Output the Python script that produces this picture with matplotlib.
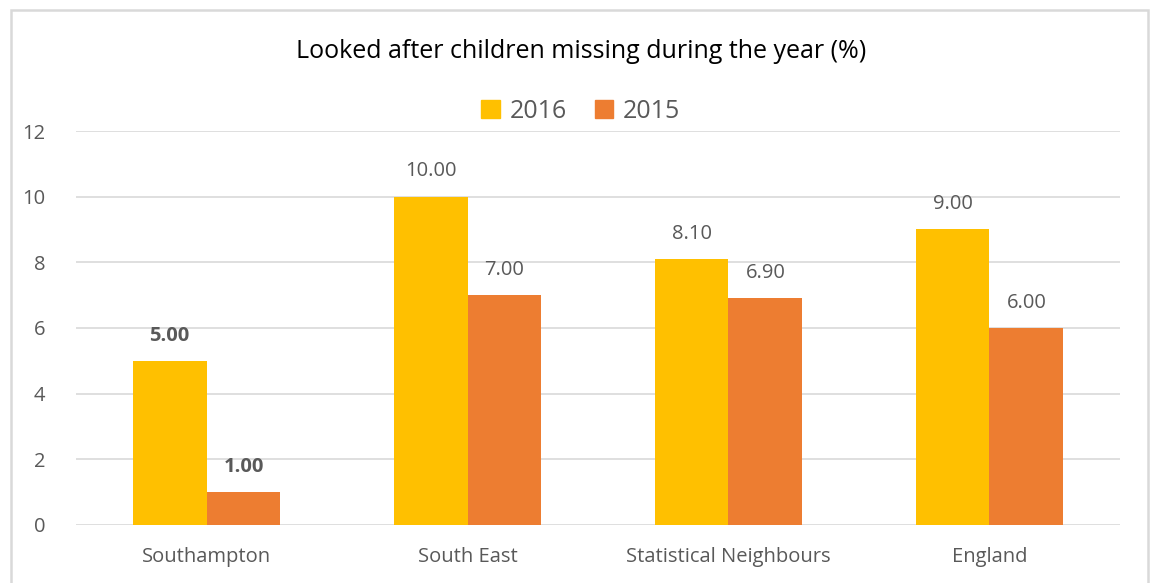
import numpy as np
import matplotlib
matplotlib.use("Agg")
import matplotlib.pyplot as plt
from matplotlib.patches import Rectangle, Patch

categories = ["Southampton", "South East", "Statistical Neighbours", "England"]
values_2016 = [5.00, 10.00, 8.10, 9.00]
values_2015 = [1.00, 7.00, 6.90, 6.00]
series_names = ["2016", "2015"]
y_ticks = [0, 2, 4, 6, 8, 10, 12]

plt.rcParams["font.family"] = ["Open Sans", "DejaVu Sans"]

C16 = "#FFC000"
C15 = "#ED7D31"
GREY = "#595959"
GRID = "#D9D9D9"

fig = plt.figure(figsize=(11.5, 5.83), dpi=100)
ax = fig.add_axes([0.0661, 0.0995, 0.9078, 0.6758])

x = np.arange(len(categories))
w = 0.283
b16 = ax.bar(x - w / 2, values_2016, w, color=C16, zorder=3)
b15 = ax.bar(x + w / 2, values_2015, w, color=C15, zorder=3)

# data labels (Southampton in bold)
for bars, vals in ((b16, values_2016), (b15, values_2015)):
    for i, (bar, v) in enumerate(zip(bars, vals)):
        ax.annotate(f"{v:.2f}", xy=(bar.get_x() + bar.get_width() / 2, v),
                    xytext=(0, 11), textcoords="offset points",
                    ha="center", va="bottom", fontsize=14.5, color=GREY,
                    fontweight="bold" if i == 0 else "normal")

ax.set_xlim(-0.5, len(categories) - 0.5)
ax.set_ylim(0, 12)
ax.set_yticks(y_ticks)
ax.set_xticks(x)
ax.set_xticklabels(categories)
ax.tick_params(axis="both", length=0, labelsize=14.5, labelcolor=GREY)
ax.tick_params(axis="y", pad=22)
ax.tick_params(axis="x", pad=16)
ax.grid(axis="y", color=GRID, lw=1.2, zorder=0)
for s in ax.spines.values():
    s.set_visible(False)

fig.text(0.505, 1 - 51 / 583, "Looked after children missing during the year (%)",
         ha="center", va="center", fontsize=18, color="#000000")

handles = [Patch(color=C16), Patch(color=C15)]
fig.legend(handles, series_names, loc="center", bbox_to_anchor=(0.505, 1 - 111 / 583),
           ncol=2, frameon=False, fontsize=18, labelcolor=GREY,
           handlelength=0.75, handleheight=0.75, handletextpad=0.4, columnspacing=1.1)

fig.patches.append(Rectangle((11 / 1150, -0.05), 1137 / 1150, 1.05 - 10 / 583,
                             transform=fig.transFigure, fill=False,
                             edgecolor=GRID, lw=1.8))

fig.savefig("out.png", dpi=100)
